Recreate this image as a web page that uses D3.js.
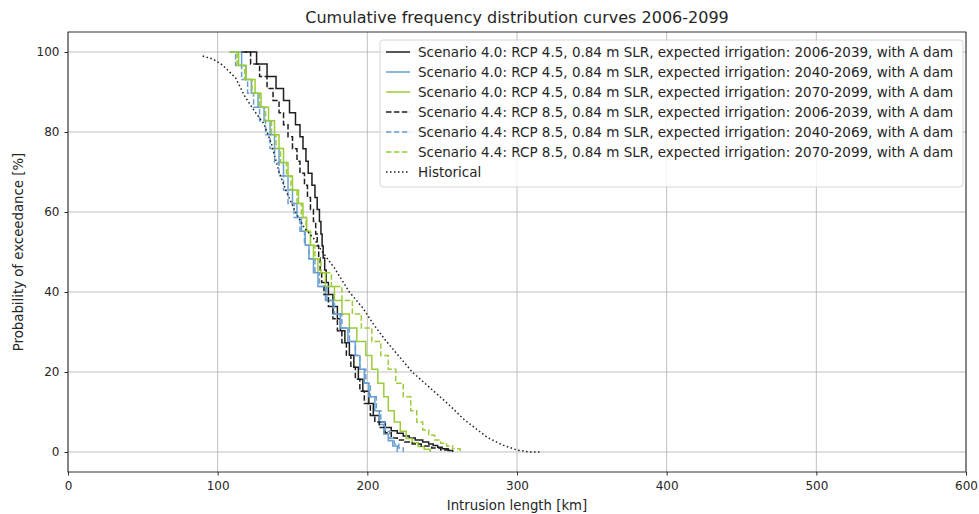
<!DOCTYPE html>
<html>
<head>
<meta charset="utf-8">
<script src="https://cdn.jsdelivr.net/npm/d3@7/dist/d3.min.js"></script>
<style>
  body { margin: 0; background: #fff; }
  svg text { font-family: "DejaVu Sans", sans-serif; fill: #262626; }
  .grid line { stroke: #b0b0b0; stroke-width: 0.8; }
  .axis path { display: none; }
  .axis line { stroke: #000; stroke-width: 0.8; }
  .axis text { font-size: 12px; }
</style>
</head>
<body>
<svg id="chart" width="979" height="514"></svg>
<script>
// [intrusion length km, probability of exceedance %]
const s40_2006 = [[118,100],[126,97],[133,93.9],[139,90.9],[144,87.9],[148,84.8],[152,81.8],[155,78.8],[157,75.8],[159,72.7],[160.5,69.7],[163,66.7],[165,63.6],[166.5,60.6],[168,57.6],[169,54.5],[169.8,51.5],[170.5,48.5],[171.5,45.5],[172.5,42.4],[174,39.4],[177,36.4],[180,33.3],[182,30.3],[185,27.3],[188,24.2],[191,21.2],[194,18.2],[197,15.2],[201,12.1],[204,9.1],[208,7.5],[212,6.1],[216,5.3],[220,4.7],[224,4],[228,3.5],[232,3],[237,2.5],[241,2],[244,1.6],[247,1.2],[250,0.8],[254,0.4],[257,0]];
const s40_2040 = [[112,100],[116,96.6],[119,93.1],[122.5,89.7],[127,86.2],[131,82.8],[135,79.3],[138,75.9],[141,72.4],[144,69],[147,65.5],[150,62.1],[153,58.6],[156,55.2],[158.5,51.7],[161,48.3],[164,44.8],[167,41.4],[172,37.9],[177,34.5],[182,31],[187,27.6],[192,24.1],[195,20.7],[198,17.2],[201,13.8],[205,10.3],[208,6.9],[211,4.5],[214,2.8],[217,1.5],[220,0]];
const s40_2070 = [[110,100],[114,96.6],[119,93.1],[125,89.7],[129,86.2],[134,82.8],[138,79.3],[141,75.9],[144,72.4],[147,69],[150,65.5],[154,62.1],[157,58.6],[159.5,55.2],[162,51.7],[164,48.3],[167,44.8],[172,41.4],[178,37.9],[183,34.5],[188,31],[193,27.6],[199,24.1],[203,20.7],[207,17.2],[211,13.8],[214,10.3],[218,7.5],[222,5.2],[226,3.4],[230,2.3],[234,1.4],[238,0.7],[242,0]];
const s44_2006 = [[116,100],[122,97],[128,93.9],[133,90.9],[137,87.9],[141,84.8],[144,81.8],[147,78.8],[150,75.8],[153,72.7],[155,69.7],[158,66.7],[160,63.6],[162,60.6],[164,57.6],[165.5,54.5],[166.5,51.5],[167.5,48.5],[168.5,45.5],[169.5,42.4],[171,39.4],[174,36.4],[177,33.3],[180,30.3],[183,27.3],[186,24.2],[189,21.2],[192,18.2],[195,15.2],[198,12.1],[202,9.1],[205,7.5],[208,6.1],[212,4.8],[216,3.5],[220,3],[225,2.5],[230,2],[236,1.5],[243,1],[249,0.5],[255,0]];
const s44_2040 = [[108,100],[112,96.6],[116,93.1],[120,89.7],[124,86.2],[128,82.8],[132,79.3],[135,75.9],[138,72.4],[141,69],[144,65.5],[147,62.1],[151,58.6],[155,55.2],[158,51.7],[161,48.3],[165,44.8],[168,41.4],[173,37.9],[178,34.5],[183,31],[188,27.6],[192,24.1],[195,20.7],[199,17.2],[202,13.8],[206,10.3],[209,7.5],[212,5.2],[215,3.4],[218,2],[221,1],[224,0]];
const s44_2070 = [[108,100],[113,96.6],[118,93.1],[123,89.7],[128,86.2],[132,82.8],[136,79.3],[139,75.9],[142,72.4],[146,69],[149,65.5],[153,62.1],[156,58.6],[159,55.2],[162,51.7],[165,48.3],[169,44.8],[176,41.4],[183,37.9],[190,34.5],[196,31],[203,27.6],[209,24.1],[214,20.7],[219,17.2],[224,13.8],[229,10.3],[233,7.5],[237,5.5],[241,4.2],[245,3],[249,2.2],[253,1.5],[257,0.8],[262,0]];
const historical = [[90,99],[97,98.2],[103,96.8],[108,95],[112,93.5],[118,89],[125,85],[131,82],[136,77],[141,70],[146,65],[152,60],[158,56],[165,53],[170,50],[178,46],[188,40],[197,36],[204,32],[212,28],[221,24],[230,20],[242,16],[254,12],[265,8],[272,6],[280,3.7],[290,1.8],[300,0.5],[308,0],[315,0]];

const seriesNames = [
  'Scenario 4.0: RCP 4.5, 0.84 m SLR, expected irrigation: 2006-2039, with A dam',
  'Scenario 4.0: RCP 4.5, 0.84 m SLR, expected irrigation: 2040-2069, with A dam',
  'Scenario 4.0: RCP 4.5, 0.84 m SLR, expected irrigation: 2070-2099, with A dam',
  'Scenario 4.4: RCP 8.5, 0.84 m SLR, expected irrigation: 2006-2039, with A dam',
  'Scenario 4.4: RCP 8.5, 0.84 m SLR, expected irrigation: 2040-2069, with A dam',
  'Scenario 4.4: RCP 8.5, 0.84 m SLR, expected irrigation: 2070-2099, with A dam',
  'Historical',
];
const seriesData = [s40_2006, s40_2040, s40_2070, s44_2006, s44_2040, s44_2070, historical];

const xTicks = [0, 100, 200, 300, 400, 500, 600];
const yTicks = [0, 20, 40, 60, 80, 100];

const COLORS = { black: '#1f1f1f', blue: '#6a9fd2', green: '#9ccc3a' };
const STYLES = [
  { color: COLORS.black, dash: null, step: true },
  { color: COLORS.blue,  dash: null, step: true },
  { color: COLORS.green, dash: null, step: true },
  { color: COLORS.black, dash: '5.5,2.4', step: true },
  { color: COLORS.blue,  dash: '5.5,2.4', step: true },
  { color: COLORS.green, dash: '5.5,2.4', step: true },
  { color: COLORS.black, dash: '1.5,2.5', step: false },
];

const margin = { left: 68, right: 13, top: 32, bottom: 42 };
const width = 979, height = 514;

const svg = d3.select('#chart');

const x = d3.scaleLinear().domain([0, 600]).range([margin.left, width - margin.right]);
const y = d3.scaleLinear().domain([-5, 105]).range([height - margin.bottom, margin.top]);

// grid
const grid = svg.append('g').attr('class', 'grid');
grid.selectAll('.gx').data(xTicks).join('line')
  .attr('x1', d => x(d)).attr('x2', d => x(d))
  .attr('y1', y.range()[0]).attr('y2', y.range()[1]);
grid.selectAll('.gy').data(yTicks).join('line')
  .attr('y1', d => y(d)).attr('y2', d => y(d))
  .attr('x1', x.range()[0]).attr('x2', x.range()[1]);

// curves
const plot = svg.append('g');
seriesData.forEach((pts, i) => {
  const st = STYLES[i];
  const line = d3.line()
    .x(d => x(d[0]))
    .y(d => y(d[1]))
    .curve(st.step ? d3.curveStepAfter : d3.curveLinear);
  plot.append('path')
    .datum(pts)
    .attr('fill', 'none')
    .attr('stroke', st.color)
    .attr('stroke-width', 1.5)
    .attr('stroke-dasharray', st.dash)
    .attr('d', line);
});

// frame
svg.append('rect')
  .attr('x', x.range()[0]).attr('y', y.range()[1])
  .attr('width', x.range()[1] - x.range()[0])
  .attr('height', y.range()[0] - y.range()[1])
  .attr('fill', 'none').attr('stroke', '#000').attr('stroke-width', 0.8);

// axes
svg.append('g').attr('class', 'axis')
  .attr('transform', `translate(0,${y.range()[0]})`)
  .call(d3.axisBottom(x).tickValues(xTicks).tickSize(3.5).tickPadding(5.5));
svg.append('g').attr('class', 'axis')
  .attr('transform', `translate(${x.range()[0]},0)`)
  .call(d3.axisLeft(y).tickValues(yTicks).tickSize(3.5).tickPadding(5));

// titles
svg.append('text')
  .attr('x', (x.range()[0] + x.range()[1]) / 2).attr('y', 23)
  .attr('text-anchor', 'middle').style('font-size', '16px')
  .text('Cumulative frequency distribution curves 2006-2099');
svg.append('text')
  .attr('x', (x.range()[0] + x.range()[1]) / 2).attr('y', 510)
  .attr('text-anchor', 'middle').style('font-size', '13.3px')
  .text('Intrusion length [km]');
svg.append('text')
  .attr('transform', `translate(23,${(y.range()[0] + y.range()[1]) / 2}) rotate(-90)`)
  .attr('text-anchor', 'middle').style('font-size', '13.3px')
  .text('Probability of exceedance [%]');

// legend
const legend = svg.append('g').attr('transform', 'translate(380,40)');
legend.append('rect')
  .attr('width', 583).attr('height', 147).attr('rx', 3)
  .attr('fill', '#fff').attr('fill-opacity', 0.8)
  .attr('stroke', '#ccc').attr('stroke-width', 0.8);
seriesNames.forEach((name, i) => {
  const st = STYLES[i];
  const row = legend.append('g').attr('transform', `translate(0,${12 + i * 20})`);
  row.append('line')
    .attr('x1', 6).attr('x2', 30)
    .attr('stroke', st.color).attr('stroke-width', 1.5)
    .attr('stroke-dasharray', st.dash);
  row.append('text')
    .attr('x', 38).attr('dy', '0.35em')
    .style('font-size', '13.5px')
    .text(name);
});
</script>
</body>
</html>
